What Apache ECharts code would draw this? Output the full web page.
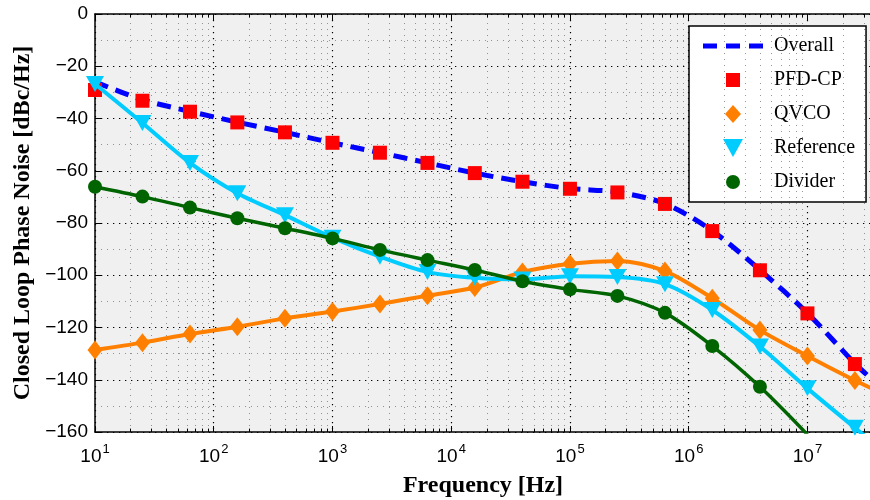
<!DOCTYPE html>
<html><head><meta charset="utf-8">
<script src="https://cdn.jsdelivr.net/npm/echarts@6/dist/echarts.min.js"></script>
<style>html,body{margin:0;padding:0;background:#fff}#c{width:870px;height:500px}</style>
</head><body><div id="c"></div>
<script>
// Frequencies of the marker points (Hz)
const freq = [10, 25.1, 63.1, 158, 398, 1000, 2510, 6310, 15800, 39800, 1e5, 2.51e5, 6.31e5, 1.58e6, 3.98e6, 1e7, 2.51e7];
const edgeFreq = 3.43e7;
// Series values (dBc/Hz)
const overall = [-26, -32.8, -37.3, -41.4, -45.3, -49.3, -53.1, -57.0, -60.9, -64.2, -66.8, -68.2, -72.6, -83.0, -98.0, -114.5, -133.8];
const overallEdge = -139.5;
const pfdcp = [-29.1, -33.2, -37.4, -41.5, -45.3, -49.3, -53.1, -57.0, -60.9, -64.2, -66.9, -68.3, -72.7, -83.1, -98.1, -114.6, -134.0];
const qvco = [-128.6, -125.8, -122.5, -119.7, -116.5, -113.9, -111.0, -107.8, -104.7, -98.8, -95.6, -94.5, -98.4, -108.8, -121.0, -130.9, -140.3];
const qvcoEdge = -143.2;
const reference = [-26.8, -41.7, -57.0, -68.6, -77.0, -85.6, -92.9, -98.8, -101.0, -101.6, -100.4, -100.7, -103.4, -113.3, -127.3, -143.3, -158.4];
const referenceEdge = -163.5;
const divider = [-66.1, -69.9, -74.1, -78.2, -82.0, -85.9, -90.3, -94.2, -98.0, -102.3, -105.4, -107.9, -114.4, -127.1, -142.7, -161.0];
// Axis settings
const xMin = 10, xMax = 3.43e7;
const yMin = -160, yMax = 0, yStep = 20;
const minorFreq = [];
for (let e = 1; e <= 7; e++) for (let m = 2; m <= 9; m++) { const v = m * Math.pow(10, e); if (v < xMax) minorFreq.push(v); }

function pairs(xs, ys) { return ys.map((y, i) => [xs[i], y]); }
function withEdge(xs, ys, ey) { const d = pairs(xs, ys); d.push({ value: [edgeFreq, ey], symbol: 'none' }); return d; }

const box = (inner) => 'path://M0,0M66,18' + inner;
const iconOverall = box('M0,6.5h14v5h-14zM23,6.5h14v5h-14zM46,6.5h14v5h-14z');
const iconSquare = box('M23,2h14v14h-14z');
const iconDiamond = box('M30,0L38,9L30,18L22,9z');
const iconTri = box('M20,0h20l-10,18z');
const iconCircle = box('M23,9a7,7 0 1,0 14,0a7,7 0 1,0 -14,0z');

const C_BLUE = '#0000ff', C_RED = '#ff0000', C_ORANGE = '#ff8000', C_CYAN = '#00ccff', C_GREEN = '#006400';
const dotMajor = { color: '#000', width: 1.2, type: [1.3, 4.7] };
const dotMinor = { color: '#444', width: 1, type: [1, 5], opacity: 0.55 };

function isDecade(v) { const e = Math.log10(v); return Math.abs(e - Math.round(e)) < 1e-6; }

const chart = echarts.init(document.getElementById('c'), null, { renderer: 'canvas' });
chart.setOption({
  animation: false,
  grid: { left: 95, top: 14, right: -1, bottom: 68, show: true, backgroundColor: '#f0f0f0', borderWidth: 0,
          containLabel: false, outerBoundsMode: 'none' },
  legend: {
    orient: 'vertical', left: 689, top: 26,
    padding: [10, 11, 10, 14], itemGap: 14, itemWidth: 66, itemHeight: 18,
    backgroundColor: '#fff', borderColor: '#000', borderWidth: 1.5, borderRadius: 0,
    textStyle: { fontFamily: 'Liberation Serif', fontSize: 20, color: '#000' },
    selectedMode: false,
    data: [
      { name: 'Overall', icon: iconOverall, itemStyle: { color: C_BLUE, borderWidth: 0 } },
      { name: 'PFD-CP', icon: iconSquare, itemStyle: { color: C_RED, borderWidth: 0 } },
      { name: 'QVCO', icon: iconDiamond, itemStyle: { color: C_ORANGE, borderWidth: 0 } },
      { name: 'Reference', icon: iconTri, itemStyle: { color: C_CYAN, borderWidth: 0 } },
      { name: 'Divider', icon: iconCircle, itemStyle: { color: C_GREEN, borderWidth: 0 } }
    ]
  },
  xAxis: [{
    type: 'log', logBase: 10, min: xMin, max: xMax, splitNumber: 7,
    name: 'Frequency [Hz]', nameLocation: 'middle', nameGap: 42,
    nameTextStyle: { fontFamily: 'Liberation Serif', fontWeight: 'bold', fontSize: 24, color: '#000' },
    axisLine: { show: true, onZero: false, lineStyle: { color: '#000', width: 1.5 } },
    axisTick: { show: true, inside: true, length: 6, lineStyle: { color: '#000' } },
    axisLabel: {
      margin: 11, color: '#000', showMaxLabel: false,
      formatter: v => isDecade(v) ? '{b|10}{s|' + Math.round(Math.log10(v)) + '}' : '',
      rich: {
        b: { fontFamily: 'Liberation Sans', fontSize: 19, color: '#000' },
        s: { fontFamily: 'Liberation Sans', fontSize: 13, color: '#000', padding: [0, 0, 14, 1] }
      }
    },
    splitLine: { show: true, lineStyle: dotMajor }
  }, {
    type: 'log', logBase: 10, min: xMin, max: xMax, splitNumber: 7, position: 'top',
    axisLine: { show: true, onZero: false, lineStyle: { color: '#000', width: 1.5 } },
    axisTick: { show: true, inside: true, length: 6, lineStyle: { color: '#000' } },
    axisLabel: { show: false }, splitLine: { show: false }
  }],
  yAxis: [{
    type: 'value', min: yMin, max: yMax, interval: yStep,
    name: 'Closed Loop Phase Noise [dBc/Hz]', nameLocation: 'middle', nameGap: 60,
    nameTextStyle: { fontFamily: 'Liberation Serif', fontWeight: 'bold', fontSize: 24, color: '#000' },
    axisLine: { show: true, lineStyle: { color: '#000', width: 1.5 } },
    axisTick: { show: true, inside: true, length: 6, lineStyle: { color: '#000' } },
    axisLabel: { margin: 7, color: '#000', fontFamily: 'Liberation Sans', fontSize: 19,
      formatter: v => v === 0 ? '0' : '\u2212' + Math.abs(v) },
    splitLine: { show: true, lineStyle: dotMajor },
    minorTick: { show: true, splitNumber: 2, length: 0 },
    minorSplitLine: { show: true, lineStyle: dotMinor }
  }],
  series: [
    {
      name: '_minorgrid', type: 'line', data: [], z: 1, silent: true,
      markLine: {
        silent: true, symbol: ['none', 'none'], label: { show: false },
        lineStyle: dotMinor, animation: false,
        data: minorFreq.map(v => ({ xAxis: v }))
      }
    },
    {
      name: '_minorticks', type: 'line', data: [], z: 1, silent: true,
      markLine: {
        silent: true, symbol: ['none', 'none'], label: { show: false },
        lineStyle: { color: '#000', width: 1, type: 'solid' }, animation: false,
        data: minorFreq.map(v => [{ coord: [v, yMax] }, { coord: [v, yMax - 1.3] }])
          .concat(minorFreq.map(v => [{ coord: [v, yMin] }, { coord: [v, yMin + 1.3] }]))
      }
    },
    {
      name: 'Overall', type: 'line', z: 3, color: C_BLUE, smooth: 0.3, showSymbol: false, symbol: 'none',
      data: withEdge(freq, overall, overallEdge),
      lineStyle: { color: C_BLUE, width: 5, type: [14, 8], cap: 'butt' }
    },
    {
      name: 'PFD-CP', type: 'scatter', z: 4, symbol: 'rect', symbolSize: 14,
      itemStyle: { color: C_RED, opacity: 1 }, data: pairs(freq, pfdcp)
    },
    {
      name: 'QVCO', type: 'line', z: 5, color: C_ORANGE, smooth: 0.3, symbol: 'diamond', symbolSize: [15, 19],
      showAllSymbol: true, clip: true,
      itemStyle: { color: C_ORANGE, borderWidth: 0 }, lineStyle: { color: C_ORANGE, width: 4 },
      data: withEdge(freq, qvco, qvcoEdge)
    },
    {
      name: 'Reference', type: 'line', z: 6, color: C_CYAN, smooth: 0.3, symbol: 'triangle', symbolRotate: 180, symbolSize: [18, 16],
      showAllSymbol: true, clip: true,
      itemStyle: { color: C_CYAN, borderWidth: 0 }, lineStyle: { color: C_CYAN, width: 4 },
      data: withEdge(freq, reference, referenceEdge)
    },
    {
      name: 'Divider', type: 'line', z: 7, color: C_GREEN, smooth: 0.3, symbol: 'circle', symbolSize: 14,
      showAllSymbol: true, clip: true,
      itemStyle: { color: C_GREEN, borderWidth: 0 }, lineStyle: { color: C_GREEN, width: 3.5 },
      data: pairs(freq, divider)
    }
  ]
});
</script></body></html>
